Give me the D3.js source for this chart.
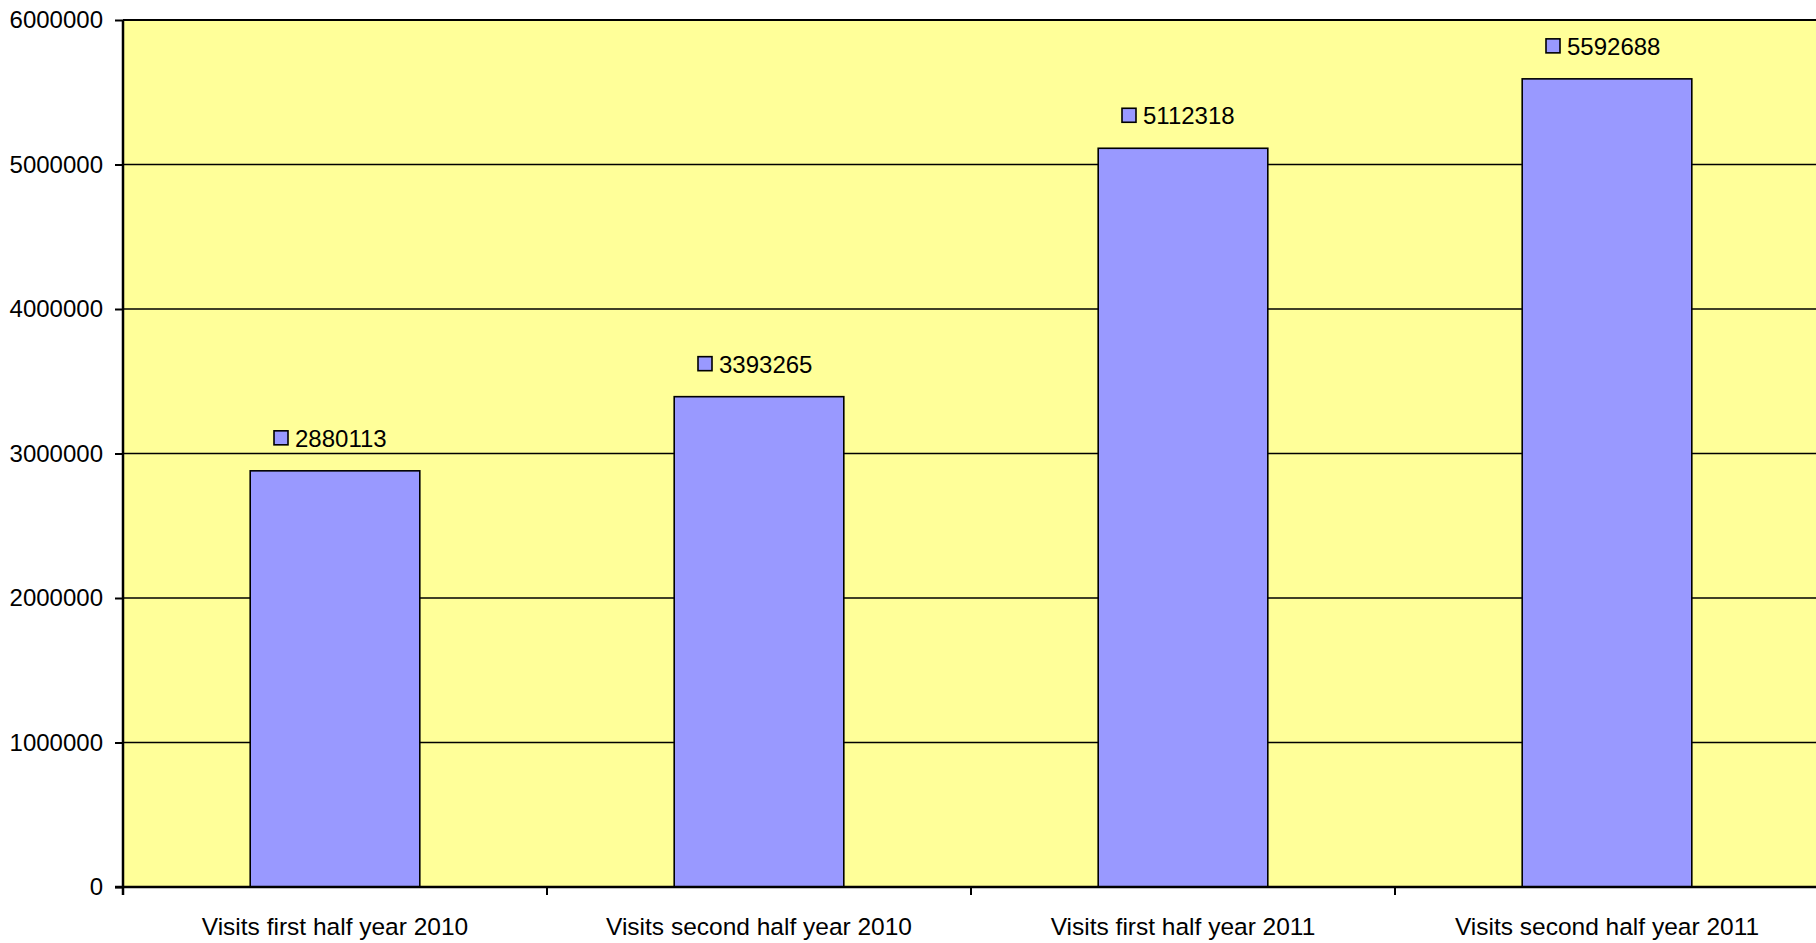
<!DOCTYPE html>
<html>
<head>
<meta charset="utf-8">
<script src="https://cdn.jsdelivr.net/npm/d3@7"></script>
<style>
  html, body { margin: 0; padding: 0; background: #ffffff; }
  svg { display: block; }
  text { font-family: "Liberation Sans", Arial, sans-serif; fill: #000; }
</style>
</head>
<body>
<svg id="chart" width="1816" height="943"></svg>
<script>
// Half-year visit totals
const categories = [
  "Visits first half year 2010",
  "Visits second half year 2010",
  "Visits first half year 2011",
  "Visits second half year 2011"
];
const visits = [2880113, 3393265, 5112318, 5592688];
const yTicks = [0, 1000000, 2000000, 3000000, 4000000, 5000000, 6000000];

const W = 1816, H = 943;
const plot = { left: 123, top: 20, right: 1819, bottom: 887 };

const svg = d3.select("#chart");

const x = d3.scaleBand()
  .domain(categories)
  .range([plot.left, plot.right])
  .paddingInner(0)
  .paddingOuter(0);

const y = d3.scaleLinear()
  .domain([0, 6000000])
  .range([plot.bottom, plot.top]);

const barW = x.bandwidth() * 0.4;

// Plot area background
svg.append("rect")
  .attr("x", plot.left).attr("y", plot.top)
  .attr("width", plot.right - plot.left)
  .attr("height", plot.bottom - plot.top)
  .attr("fill", "#FFFF99");

// Horizontal gridlines
svg.append("g")
  .selectAll("line")
  .data(yTicks.filter(d => d > 0))
  .join("line")
  .attr("x1", plot.left).attr("x2", plot.right)
  .attr("y1", d => y(d)).attr("y2", d => y(d))
  .attr("stroke", "#000").attr("stroke-width", 1.6);

// Bars
svg.append("g")
  .selectAll("rect")
  .data(visits)
  .join("rect")
  .attr("x", (d, i) => x(categories[i]) + x.bandwidth() / 2 - barW / 2)
  .attr("y", d => y(d))
  .attr("width", barW)
  .attr("height", d => y(0) - y(d))
  .attr("fill", "#9999FF")
  .attr("stroke", "#000")
  .attr("stroke-width", 1.6);

// Value labels with legend key
const lbl = svg.append("g")
  .selectAll("g")
  .data(visits)
  .join("g")
  .attr("transform", (d, i) =>
    `translate(${x(categories[i]) + x.bandwidth() / 2},${y(d)})`);

lbl.append("rect")
  .attr("x", -61).attr("y", -40)
  .attr("width", 14).attr("height", 14)
  .attr("fill", "#9999FF")
  .attr("stroke", "#000").attr("stroke-width", 1.6);

lbl.append("text")
  .attr("x", -40).attr("y", -24)
  .attr("font-size", 24)
  .text(d => d);

// Y axis
const yAxis = d3.axisLeft(y)
  .tickValues(yTicks)
  .tickFormat(d3.format("d"))
  .tickSize(8)
  .tickPadding(12);

const yg = svg.append("g")
  .attr("transform", `translate(${plot.left},0)`)
  .call(yAxis);
yg.select(".domain").remove();
yg.selectAll(".tick line").attr("stroke", "#000").attr("stroke-width", 2);
yg.selectAll(".tick text")
  .attr("font-size", 24)
  .attr("font-family", "Liberation Sans, Arial, sans-serif")
  .attr("fill", "#000");

// X axis
const xTickPos = categories.map(c => x(c)).concat([plot.right]);
const xg = svg.append("g");
xg.selectAll("line.tick")
  .data(xTickPos)
  .join("line")
  .attr("class", "tick")
  .attr("x1", d => d).attr("x2", d => d)
  .attr("y1", plot.bottom).attr("y2", plot.bottom + 8)
  .attr("stroke", "#000").attr("stroke-width", 2);

xg.selectAll("text")
  .data(categories)
  .join("text")
  .attr("x", d => x(d) + x.bandwidth() / 2)
  .attr("y", 935)
  .attr("text-anchor", "middle")
  .attr("font-size", 24.5)
  .text(d => d);

// Plot frame: top edge, left axis, baseline
svg.append("line")
  .attr("x1", plot.left).attr("x2", plot.right)
  .attr("y1", plot.top).attr("y2", plot.top)
  .attr("stroke", "#000").attr("stroke-width", 2.2);
svg.append("line")
  .attr("x1", plot.left).attr("x2", plot.left)
  .attr("y1", plot.top).attr("y2", plot.bottom + 8)
  .attr("stroke", "#000").attr("stroke-width", 2.5);
svg.append("line")
  .attr("x1", plot.left - 8).attr("x2", plot.right)
  .attr("y1", plot.bottom).attr("y2", plot.bottom)
  .attr("stroke", "#000").attr("stroke-width", 2.5);
</script>
</body>
</html>
